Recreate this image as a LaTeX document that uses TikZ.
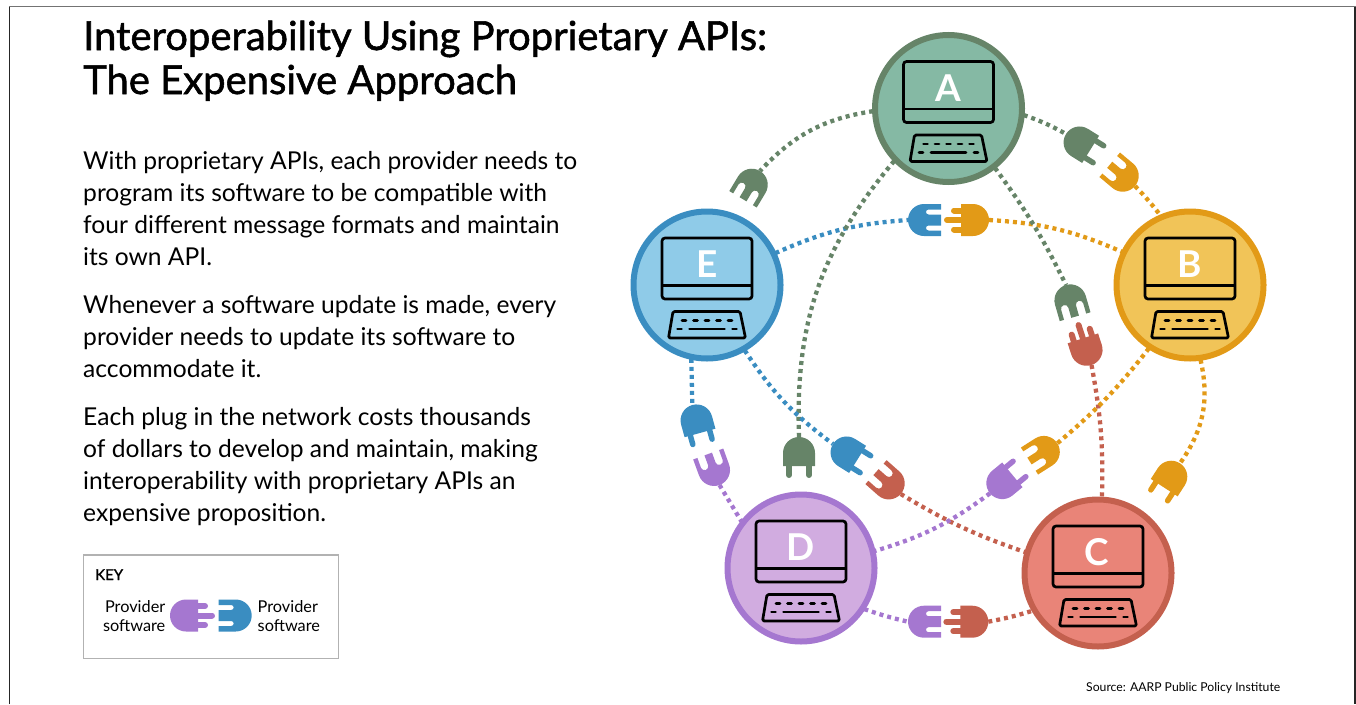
\documentclass[tikz,border=0pt]{standalone}
\usepackage{fontspec}
\setmainfont{Lato}
\newfontfamily\titlefont[FakeBold=1.4]{Lato}
\newfontfamily\letterfont[FakeBold=1]{Lato Bold}
\definecolor{aF}{HTML}{85B9A4}\definecolor{aL}{HTML}{668468}
\definecolor{bF}{HTML}{F1C458}\definecolor{bL}{HTML}{E29A17}
\definecolor{cF}{HTML}{E98478}\definecolor{cL}{HTML}{C4604E}
\definecolor{dF}{HTML}{D1ACE0}\definecolor{dL}{HTML}{A577D0}
\definecolor{eF}{HTML}{8FCBE8}\definecolor{eL}{HTML}{3A8DC1}
\tikzset{
  x=1pt,y=-1pt,
  provider/.style 2 args={circle,draw=#2,fill=#1,line width=6pt,minimum size=147pt,inner sep=0pt,outer sep=2pt},
  letter/.style={text=white,font=\fontsize{37}{37}\selectfont\bfseries,inner sep=0pt},
  wire/.style={draw=#1,line width=4.3pt,dash pattern=on 4pt off 4pt},
  bodytext/.style={anchor=north west,align=left,inner sep=0pt,font=\fontsize{24.6}{32}\selectfont},
  titletext/.style={anchor=base west,inner sep=0pt,font=\fontsize{40}{44}\selectfont\titlefont},
  keytext/.style={inner sep=0pt,font=\fontsize{16.3}{19}\selectfont},
  pics/computer/.style={code={
    \draw[black,line width=2.7pt,rounded corners=3pt] (-45,-47) rectangle (45,14);
    \draw[black,line width=2.7pt] (-45,0.5) -- (45,0.5);
    \draw[black,line width=2.7pt,rounded corners=1.5pt,line join=round] (-34,26.5) -- (33,26.5) -- (38.5,53) -- (-38.5,53) -- cycle;
    \foreach \k in {-23,-11.5,0,11.5,23}{\draw[black,line width=2.7pt,line cap=round] (\k-2,35.5) -- (\k+2,35.5);}
    \draw[black,line width=2.7pt,line cap=round] (-29.5,44) -- (-25.5,44);
    \draw[black,line width=2.7pt,line cap=round] (-17.5,44) -- (17.5,44);
    \draw[black,line width=2.7pt,line cap=round] (25.5,44) -- (29.5,44);
  }},
  pics/maletwo/.style={code={\begin{scope}[x=1pt,y=1pt]
    \fill[#1] (29,-16) -- (16,-16) arc[start angle=-90,end angle=-270,radius=16] -- (29,16) -- cycle;
    \draw[#1,line width=5.5pt,line cap=round] (28,-10) -- (38.2,-10) (28,10) -- (38.2,10);
  \end{scope}}},
  pics/malethree/.style={code={\begin{scope}[x=1pt,y=1pt]
    \fill[#1] (28,-16) -- (16,-16) arc[start angle=-90,end angle=-270,radius=16] -- (28,16) -- cycle;
    \draw[#1,line width=6pt,line cap=round] (27,0) -- (42,0) (27,-9.5) -- (35,-9.5) (27,9.5) -- (35,9.5);
  \end{scope}}},
  pics/femalenarrow/.style={code={\begin{scope}[x=1pt,y=1pt]
    \fill[#1] (33,-16) -- (16,-16) arc[start angle=-90,end angle=-270,radius=16] -- (33,16) -- (33,10.5) -- (20.5,10.5)
      arc[start angle=90,end angle=270,radius=2.5] -- (33,5.5) -- (33,-5.5) -- (20.5,-5.5)
      arc[start angle=90,end angle=270,radius=2.5] -- (33,-10.5) -- cycle;
  \end{scope}}},
  pics/femalewide/.style={code={\begin{scope}[x=1pt,y=1pt]
    \fill[#1] (33,-16) -- (16,-16) arc[start angle=-90,end angle=-270,radius=16] -- (33,16) -- (33,11.5) -- (22.5,11.5)
      arc[start angle=90,end angle=270,radius=3.75] -- (33,4) -- (33,-4) -- (22.5,-4)
      arc[start angle=90,end angle=270,radius=3.75] -- (33,-11.5) -- cycle;
  \end{scope}}},
}
\begin{document}
\begin{tikzpicture}
\useasboundingbox (0,0) rectangle (1356,704);
% frame
\draw[line width=1.2pt,black!85] (9.5,704) -- (9.5,6.5);
\draw[line width=1.2pt,black!85] (1355,6.5) -- (1355,704);
\draw[line width=1.5pt,black!55] (9,6.5) -- (1355.6,6.5);
% text
\node[titletext] (t1) at (83,50) {Interoperability Using Proprietary APIs:};
\node[titletext] (t2) at (83,94) {The Expensive Approach};
\node[bodytext] (b1) at (83,151) {With proprietary APIs, each provider needs to\\program its software to be compatible with\\four different message formats and maintain\\its own API.};
\node[bodytext] (b2) at (83,295) {Whenever a software update is made, every\\provider needs to update its software to\\accommodate it.};
\node[bodytext] (b3) at (83,407) {Each plug in the network costs thousands\\of dollars to develop and maintain, making\\interoperability with proprietary APIs an\\expensive proposition.};
% key
\node[draw=black!30,line width=1.2pt,minimum width=255.5pt,minimum height=103.5pt,inner sep=0pt,anchor=north west] (keybox) at (82.7,554.4) {};
\node[anchor=base west,inner sep=0pt,font=\fontsize{15}{18}\selectfont\titlefont] (keyt) at (95,580) {KEY};
\node[keytext,anchor=east,align=right] (kl) at (165.5,616.5) {Provider\\software};
\node[keytext,anchor=west,align=left] (kr) at (257.5,616.5) {Provider\\software};
\coordinate (kp1) at (170,615.5);
\coordinate (kp2) at (251.7,615.5);
\pic[rotate=0] at (kp1) {malethree=dL};
\pic[rotate=180] at (kp2) {femalenarrow=eL};
\node[anchor=base west,inner sep=0pt,font=\fontsize{12.2}{14}\selectfont] (src) at (1086,691) {Source: AARP Public Policy Institute};
% provider nodes
\node[provider={aF}{aL}] (A) at (948.5,108.5) {};
\node[provider={bF}{bL}] (B) at (1190,285) {};
\node[provider={cF}{cL}] (C) at (1098,573) {};
\node[provider={dF}{dL}] (D) at (801,568) {};
\node[provider={eF}{eL}] (E) at (707,285) {};
\foreach \n in {A,B,C,D,E}{\pic at (\n) {computer};}
\node[letter] (la) at (948,88) {A};
\node[letter] (lb) at (1190,264) {B};
\node[letter] (lc) at (1097,552) {C};
\node[letter] (ld) at (801,547) {D};
\node[letter] (le) at (707,264) {E};
% plug positions
\coordinate (pAB) at (1066,134);
\coordinate (pBA) at (1135,186);
\coordinate (pEB) at (908,220);
\coordinate (pBE) at (989,220);
\coordinate (pAC) at (1066,285);
\coordinate (pCA) at (1091.5,365);
\coordinate (pED) at (692.3,405);
\coordinate (pDE) at (719.5,485);
\coordinate (pAD) at (799,437);
\coordinate (pEC) at (833,444);
\coordinate (pCE) at (900.7,494);
\coordinate (pBD) at (1057.3,443.3);
\coordinate (pDB) at (990,493.3);
\coordinate (pBC) at (1180,463.3);
\coordinate (pDC) at (908,621.7);
\coordinate (pCD) at (988.3,621.7);
\coordinate (pAE) at (760,171);
% connectors
\draw[wire=aL] (A.-5.5) to[bend left=5] (pAB);
\draw[wire=bL] (pBA) to[bend left=3] (B.113);
\draw[wire=eL] (E.25.6) to[bend left=10] (pEB);
\draw[wire=bL] (pBE) to[bend left=10] (B.154);
\draw[wire=aL] (A.-52) to[bend left=5] (pAC);
\draw[wire=cL] (pCA) to[bend left=6] (C.87);
\draw[wire=eL] (E.258) -- (pED);
\draw[wire=dL] (pDE) -- (D.142.7);
\draw[wire=aL] (A.224.5) to[bend right=21] (pAD);
\draw[wire=eL] (E.-60) to[bend right=10] (pEC);
\draw[wire=cL] (pCE) to[bend right=6] (C.164.5);
\draw[wire=bL] (B.237) to[bend left=6] (pBD);
\draw[wire=dL] (pDB) to[bend left=10] (D.13.7);
\draw[wire=bL] (B.-82) to[bend left=24] (pBC);
\draw[wire=dL] (D.-33) to[bend right=3] (pDC);
\draw[wire=cL] (pCD) to[bend right=3] (C.210);
\draw[wire=aL] (A.182) to[bend right=19] (pAE);
% plugs
\pic[rotate=-32] at (pAB) {maletwo=aL};
\pic[rotate=140] at (pBA) {femalewide=bL};
\pic[rotate=0] at (pEB) {femalenarrow=eL};
\pic[rotate=180] at (pBE) {malethree=bL};
\pic[rotate=-74] at (pAC) {femalewide=aL};
\pic[rotate=108] at (pCA) {malethree=cL};
\pic[rotate=-74.6] at (pED) {maletwo=eL};
\pic[rotate=110] at (pDE) {femalewide=dL};
\pic[rotate=-90] at (pAD) {maletwo=aL};
\pic[rotate=-32] at (pEC) {maletwo=eL};
\pic[rotate=138.5] at (pCE) {femalewide=cL};
\pic[rotate=212.5] at (pBD) {femalewide=bL};
\pic[rotate=39.6] at (pDB) {maletwo=dL};
\pic[rotate=-123] at (pBC) {maletwo=bL};
\pic[rotate=0] at (pDC) {femalenarrow=dL};
\pic[rotate=180] at (pCD) {malethree=cL};
\pic[rotate=-121] at (pAE) {femalewide=aL};
\end{tikzpicture}
\end{document}
